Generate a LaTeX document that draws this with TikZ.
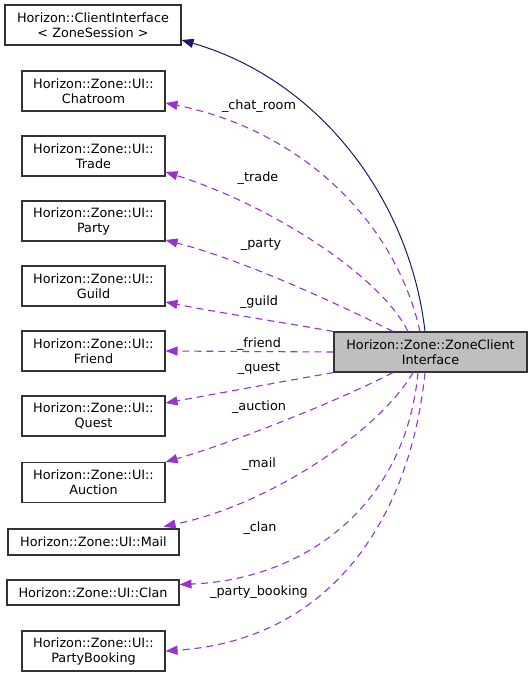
\documentclass[tikz,border=0pt]{standalone}
\usepackage{fontspec}
\setmainfont{DejaVu Sans}
\usepackage{tikz}
\usetikzlibrary{arrows.meta}
\definecolor{violet}{HTML}{9A32CD}
\definecolor{nuit}{HTML}{191970}
\definecolor{gris}{HTML}{BFBFBF}
\begin{document}
\begin{tikzpicture}[x=1pt,y=-1pt,
	classe/.style={draw=black!80,line width=1.1pt,align=center,inner sep=0pt,font=\fontsize{12.8}{15}\selectfont},
	ui/.style={classe,minimum width=143pt,minimum height=40pt},
	usage/.style={violet,line width=1.1pt,dash pattern=on 7pt off 5pt,-{Triangle[length=12pt,width=9pt]}},
	herite/.style={nuit,line width=1pt,-{Triangle[length=12pt,width=9pt]}},
	etiq/.style={font=\fontsize{12.8}{15}\selectfont,inner sep=0pt}]
%					Cadre :
					\useasboundingbox (0,0) rectangle (532,677);
%					Tracé des classes :
					\node[classe,minimum width=176pt,minimum height=40pt] (client) at (93,25) {Horizon::ClientInterface\\< ZoneSession >};
					\node[ui] (chatroom) at (93.5,91) {Horizon::Zone::UI::\\Chatroom};
					\node[ui] (trade) at (93.5,156) {Horizon::Zone::UI::\\Trade};
					\node[ui] (party) at (93.5,221) {Horizon::Zone::UI::\\Party};
					\node[ui] (guild) at (93.5,286) {Horizon::Zone::UI::\\Guild};
					\node[ui] (friend) at (93.5,351) {Horizon::Zone::UI::\\Friend};
					\node[ui] (quest) at (93.5,416) {Horizon::Zone::UI::\\Quest};
					\node[ui] (auction) at (93.5,482.5) {Horizon::Zone::UI::\\Auction};
					\node[classe,minimum width=171pt,minimum height=26pt] (mail) at (93.5,542) {Horizon::Zone::UI::Mail};
					\node[classe,minimum width=172pt,minimum height=25pt] (clan) at (93,592.5) {Horizon::Zone::UI::Clan};
					\node[ui] (booking) at (93.5,651) {Horizon::Zone::UI::\\PartyBooking};
					\node[classe,fill=gris,minimum width=193pt,minimum height=40pt] (zone) at (430.5,352) {Horizon::Zone::ZoneClient\\Interface};
%					Tracé des liens :
					\draw[herite] ([xshift=-5.5pt]zone.north) .. controls (410,200) and (320,80) .. ([yshift=-15pt]client.east);
					\draw[usage] ([xshift=-10.5pt]zone.north) .. controls (395,220) and (300,130) .. ([yshift=-12pt]chatroom.east);
					\draw[usage] ([xshift=-22.5pt]zone.north) .. controls (380,275) and (270,205) .. ([yshift=-16pt]trade.east);
					\draw[usage] ([xshift=-37.5pt]zone.north) .. controls (350,310) and (250,262) .. ([yshift=-19pt]party.east);
					\draw[usage] (zone.north west) .. controls (280,322) and (215,312) .. ([yshift=-16pt]guild.east);
					\draw[usage] (zone.west) -- (friend.east);
					\draw[usage] (zone.south west) .. controls (280,382) and (215,394) .. ([yshift=13pt]quest.east);
					\draw[usage] ([xshift=-37.5pt]zone.south) .. controls (340,400) and (235,442) .. (auction.north east);
					\draw[usage] ([xshift=-17.5pt]zone.south) .. controls (380,430) and (270,505) .. ([xshift=-16pt,yshift=2pt]mail.north east);
					\draw[usage] ([xshift=-12.5pt]zone.south) .. controls (405,510) and (300,580) .. ([yshift=8pt]clan.east);
					\draw[usage] ([xshift=-5.5pt]zone.south) .. controls (410,520) and (330,640) .. (booking.east);
%					Étiquettes :
					\node[etiq] (l1) at (259,106) {\_chat\_room};
					\node[etiq] (l2) at (258,178) {\_trade};
					\node[etiq] (l3) at (261,245) {\_party};
					\node[etiq] (l4) at (259,302) {\_guild};
					\node[etiq] (l5) at (259,344) {\_friend};
					\node[etiq] (l6) at (259,369) {\_quest};
					\node[etiq] (l7) at (259,407) {\_auction};
					\node[etiq] (l8) at (259,464) {\_mail};
					\node[etiq] (l9) at (260,528) {\_clan};
					\node[etiq] (l10) at (259,592) {\_party\_booking};
				\end{tikzpicture}
\end{document}
